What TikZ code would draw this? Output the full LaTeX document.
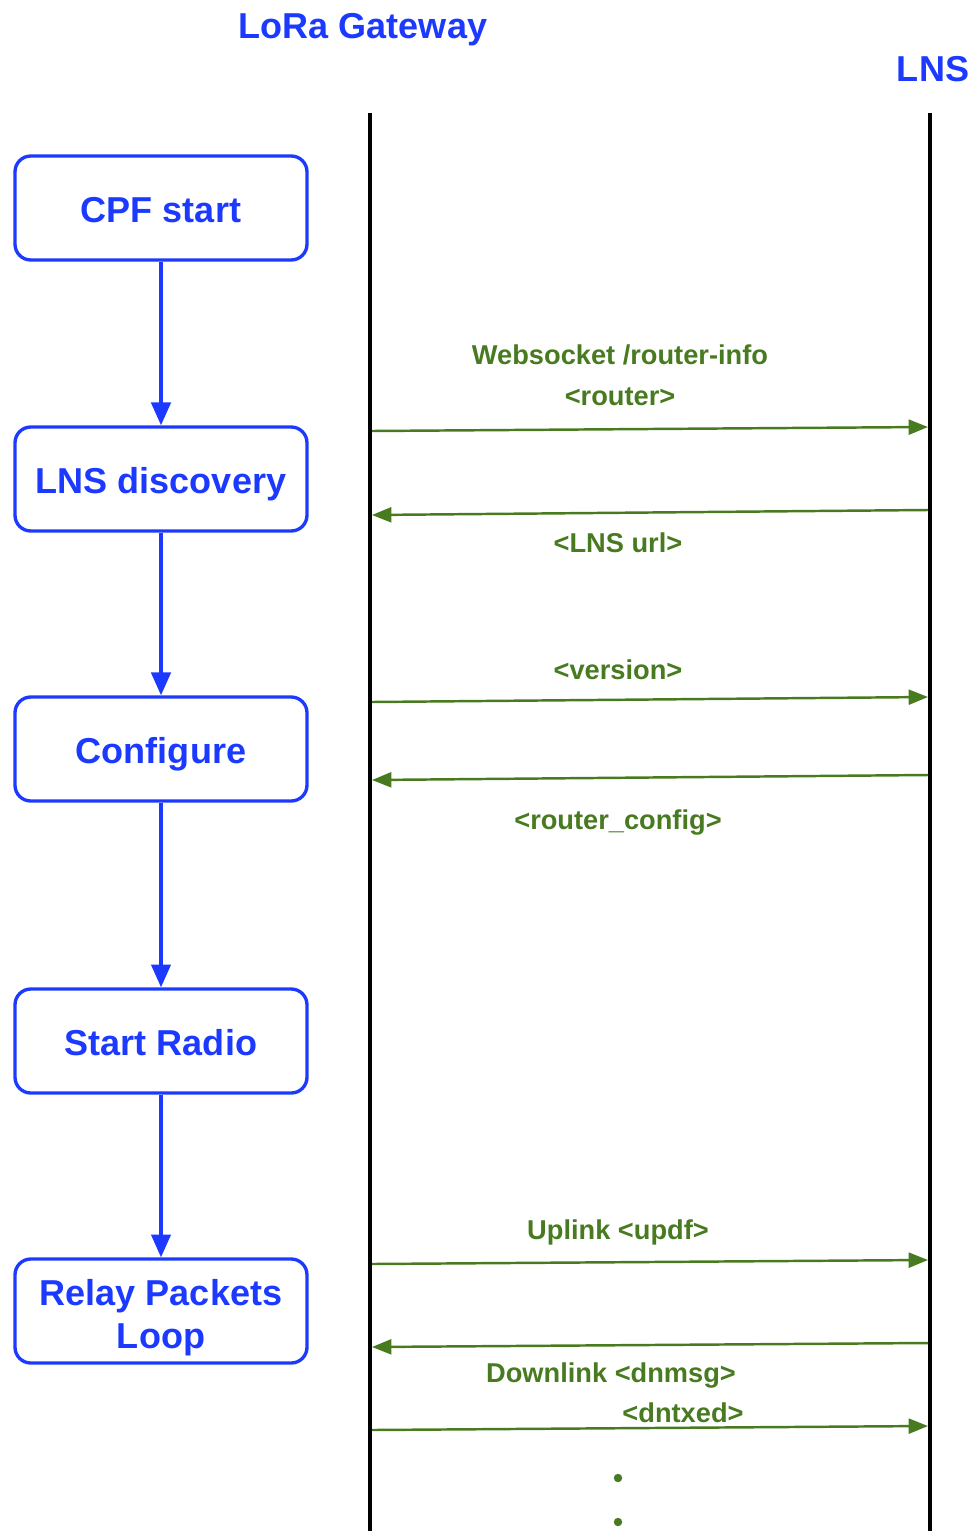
\documentclass[tikz,border=0pt]{standalone}
\usepackage{fontspec}
\setmainfont{Liberation Sans}
\usetikzlibrary{arrows.meta}
\definecolor{flowblue}{RGB}{28,58,255}
\definecolor{msggreen}{RGB}{72,122,32}
\begin{document}
\begin{tikzpicture}[
            x=0.02cm, y=-0.02cm,
            stepbox/.style ={draw=flowblue, line width=1.9pt, rounded corners=9pt,
                             minimum width=292*0.02cm, minimum height=104*0.02cm,
                             text=flowblue, font=\fontsize{20.5}{24.5}\selectfont\bfseries,
                             align=center, inner sep=0pt},
            oneline/.style ={text height=20.5pt, text depth=3.5pt},
            flow/.style    ={-{Triangle[length=13pt,width=11pt]}, flowblue, line width=2pt},
            actor/.style   ={text=flowblue, font=\fontsize{20.5}{24}\selectfont\bfseries},
            life/.style    ={black, line width=2pt},
            msg/.style     ={-{Triangle[length=11pt,width=8.5pt]}, msggreen, line width=1.4pt},
            msglabel/.style={text=msggreen, font=\fontsize{15.5}{18}\selectfont\bfseries, inner sep=0pt}
        ]
            \useasboundingbox (0,0) rectangle (978,1531);

            %-----------------  Participants  --------------------
            \node[actor] (gwtitle) at (363,30) {LoRa Gateway};
            \node[actor] (lnstitle) at (933,69) {LNS};

            \coordinate (gwtop) at (370,113);
            \coordinate (gwbot) at (370,1531);
            \coordinate (lnstop) at (930,113);
            \coordinate (lnsbot) at (930,1531);
            \draw[life] (gwtop) -- (gwbot);
            \draw[life] (lnstop) -- (lnsbot);

            %-----------------  Gateway steps  --------------------
            \node[stepbox, oneline] (cpf)    at (161,208)  {CPF start};
            \node[stepbox, oneline] (disc)   at (161,479)  {LNS discovery};
            \node[stepbox, oneline] (config) at (161,749)  {Configure};
            \node[stepbox, oneline] (radio)  at (161,1041) {Start Radio};
            \node[stepbox] (relay)  at (161,1311) {\rule{0pt}{22pt}Relay Packets\\Loop};

            \draw[flow] (cpf)    -- (disc);
            \draw[flow] (disc)   -- (config);
            \draw[flow] (config) -- (radio);
            \draw[flow] (radio)  -- (relay);

            %-----------------  Messages  --------------------
            % discovery
            \coordinate (g1) at (372,431);  \coordinate (n1) at (928,427);
            \coordinate (n2) at (928,510);  \coordinate (g2) at (372,515);
            \draw[msg] (g1) -- (n1);
            \draw[msg] (n2) -- (g2);
            \node[msglabel] (ws)     at (620,355) {Websocket /router-info};
            \node[msglabel] (router) at (620,397) {<router>};
            \node[msglabel] (url)    at (618,543) {<LNS url>};

            % configuration
            \coordinate (g3) at (372,702);  \coordinate (n3) at (928,697);
            \coordinate (n4) at (928,775);  \coordinate (g4) at (372,780);
            \draw[msg] (g3) -- (n3);
            \draw[msg] (n4) -- (g4);
            \node[msglabel] (version) at (618,670) {<version>};
            \node[msglabel] (rconf)   at (618,823) {<router\_config>};

            % relay loop
            \coordinate (g5) at (372,1264); \coordinate (n5) at (928,1260);
            \coordinate (n6) at (928,1343); \coordinate (g6) at (372,1347);
            \coordinate (g7) at (372,1430); \coordinate (n7) at (928,1426);
            \draw[msg] (g5) -- (n5);
            \draw[msg] (n6) -- (g6);
            \draw[msg] (g7) -- (n7);
            \node[msglabel] (up)   at (618,1232) {Uplink <updf>};
            \node[msglabel] (down) at (611,1376) {Downlink <dnmsg>};
            \node[msglabel] (txed) at (683,1413) {<dntxed>};

            % more to come
            \fill[msggreen] (618,1478) circle (2.4pt);
            \fill[msggreen] (618,1522) circle (2.4pt);
        \end{tikzpicture}
\end{document}
